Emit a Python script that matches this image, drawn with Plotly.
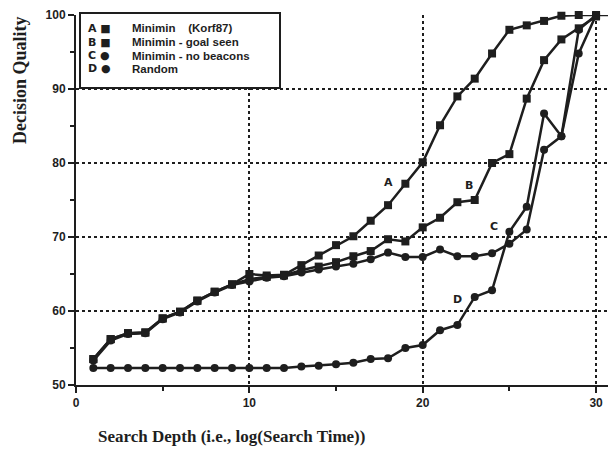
import plotly.graph_objects as go

depth = list(range(1, 32))

quality_a = [53.5, 56.2, 57.0, 57.1, 59.0, 59.9, 61.4, 62.6, 63.6, 65.0,
             64.8, 64.9, 66.2, 67.5, 68.9, 70.1, 72.2, 74.3, 77.2, 80.1,
             85.1, 89.0, 91.4, 94.8, 98.0, 98.6, 99.2, 99.9, 100, 100, 100]
quality_b = [53.5, 56.2, 57.0, 57.1, 59.0, 59.9, 61.4, 62.6, 63.6, 64.3,
             64.6, 64.8, 65.5, 66.0, 66.6, 67.4, 68.1, 69.7, 69.4, 71.3,
             72.6, 74.7, 75.0, 80.0, 81.2, 88.7, 93.9, 96.7, 98.2, 99.8]
quality_c = [53.3, 56.0, 56.9, 57.0, 58.9, 59.8, 61.3, 62.5, 63.5, 64.0,
             64.5, 64.7, 65.2, 65.6, 66.0, 66.4, 67.0, 67.9, 67.3, 67.3,
             68.3, 67.4, 67.4, 67.8, 69.1, 71.0, 81.8, 83.6, 98.0, 100]
quality_d = [52.3, 52.3, 52.3, 52.3, 52.3, 52.3, 52.3, 52.3, 52.3, 52.3,
             52.3, 52.3, 52.5, 52.6, 52.8, 53.0, 53.5, 53.6, 55.0, 55.4,
             57.4, 58.1, 61.9, 62.8, 70.7, 74.1, 86.7, 83.6, 94.8, 100]

series_letters = ["A", "B", "C", "D"]
series_names = ["Minimin\u00a0\u00a0\u00a0\u00a0(Korf87)", "Minimin - goal seen",
                "Minimin - no beacons", "Random"]
series_symbols = ["■", "■", "●", "●"]

x_ticks = [0, 10, 20, 30]
y_ticks = [50, 60, 70, 80, 90, 100]

INK = "#1e1e1e"
fig = go.Figure()

series = [
    (quality_a, "square", 8),
    (quality_b, "square", 8),
    (quality_c, "circle", 8),
    (quality_d, "circle", 8),
]
for (vals, sym, size), name in zip(series, series_names):
    fig.add_trace(go.Scatter(
        x=depth[:len(vals)], y=vals, mode="lines+markers", name=name,
        line=dict(color=INK, width=2.5),
        marker=dict(symbol=sym, size=size, color=INK),
        cliponaxis=False, showlegend=False))

# curve labels
label_pos = [(18.0, 77.3), (22.65, 77.0), (24.1, 71.4), (22.0, 61.5)]
for letter, (lx, ly) in zip(series_letters, label_pos):
    fig.add_annotation(x=lx, y=ly, text=letter, showarrow=False,
                       font=dict(family="DejaVu Sans", size=11,
                                 color=INK, weight="bold"))

# The page has an 8px body margin, so the figure is 8px smaller and
# everything below is expressed in the reference's pixel coordinates.
OFF = 8
FIG_W, FIG_H = 616 - OFF, 450 - OFF
L, T, W, H = 76, 15, 540, 370
def px(x):
    return (x - L) / W
def py(y):
    return (T + H - y) / H

fig.add_shape(type="rect", xref="paper", yref="paper",
              x0=px(80), x1=px(280), y0=py(88), y1=py(13),
              line=dict(color=INK, width=2), fillcolor="white", layer="above")
row_y = [28.5, 42, 55.5, 69]
leg_font = dict(family="Liberation Sans", size=11.5, color=INK, weight="bold")
for letter, sym, name, ry in zip(series_letters, series_symbols, series_names, row_y):
    fig.add_annotation(xref="paper", yref="paper", x=px(87), y=py(ry),
                       xanchor="left", yanchor="middle", showarrow=False,
                       borderpad=0, text=letter + " " + sym,
                       font=dict(family="DejaVu Sans", size=11, color=INK,
                                 weight="bold"))
    fig.add_annotation(xref="paper", yref="paper", x=px(131), y=py(ry),
                       xanchor="left", yanchor="middle", showarrow=False,
                       borderpad=0, text=name, font=leg_font)

# axis titles
fig.add_annotation(xref="paper", yref="paper", x=px(231), y=py(437),
                   xanchor="center", yanchor="middle",
                   text="Search Depth (i.e., log(Search Time))", showarrow=False,
                   font=dict(family="Liberation Serif", size=17, color=INK,
                             weight="bold"))
fig.add_annotation(xref="paper", yref="paper", x=px(20), y=py(80),
                   xanchor="center", yanchor="middle",
                   text="Decision Quality", showarrow=False, textangle=-90,
                   font=dict(family="Liberation Serif", size=18, color=INK,
                             weight="bold"))

axis_common = dict(
    showline=True, linecolor=INK, linewidth=2,
    ticks="outside", ticklen=6, tickwidth=2, tickcolor=INK,
    showgrid=True, gridcolor=INK, gridwidth=1.5, griddash="dot",
    zeroline=False, automargin=False,
    tickfont=dict(family="Liberation Sans", size=12, color=INK, weight="bold"),
)
fig.update_xaxes(range=[0, 31.15], tickvals=x_ticks,
                 minor=dict(dtick=5, ticks="outside", ticklen=4,
                            tickcolor=INK, tickwidth=1.5, showgrid=False),
                 **axis_common)
fig.update_yaxes(range=[50, 100], tickvals=y_ticks,
                 minor=dict(dtick=5, ticks="outside", ticklen=4,
                            tickcolor=INK, tickwidth=1.5, showgrid=False),
                 **axis_common)

fig.update_layout(
    width=FIG_W, height=FIG_H,
    margin=dict(l=L - OFF, r=FIG_W - (L - OFF) - W, t=T - OFF,
                b=FIG_H - (T - OFF) - H),
    plot_bgcolor="white", paper_bgcolor="white",
    showlegend=False,
)

fig.write_html("out.html")
